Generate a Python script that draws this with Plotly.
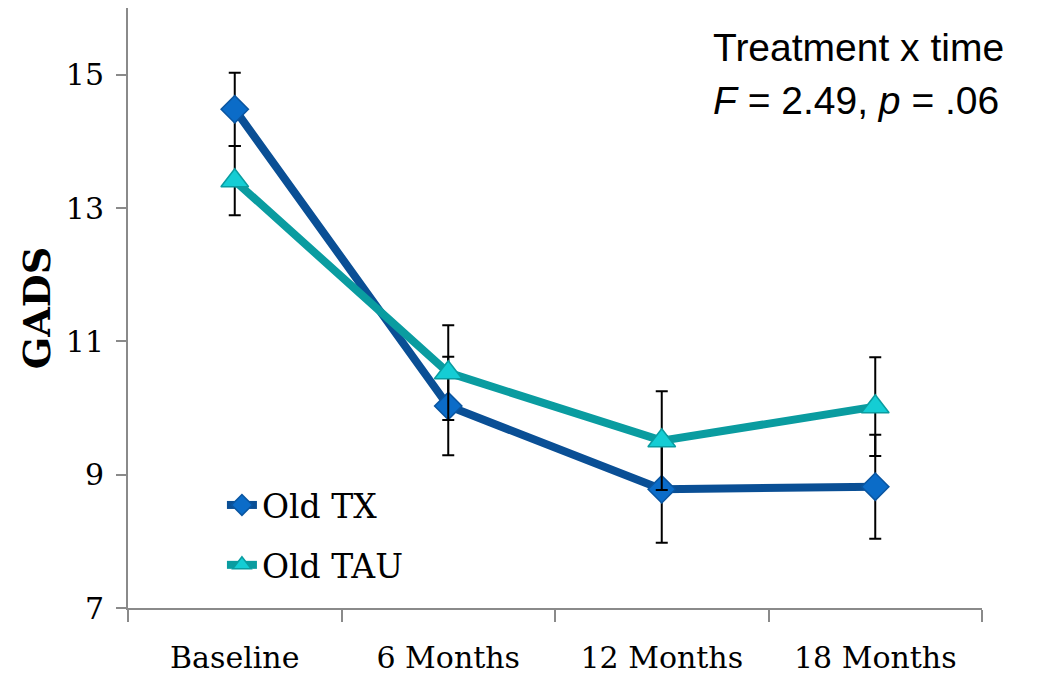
import plotly.graph_objects as go

# Time points and group means (GADS score) with standard errors
timepoints = ["Baseline", "6 Months", "12 Months", "18 Months"]
old_tx = [14.48, 10.03, 8.78, 8.82]
old_tx_err = [0.55, 0.74, 0.80, 0.78]
old_tau = [13.41, 10.53, 9.51, 10.02]
old_tau_err = [0.52, 0.71, 0.74, 0.74]
y_ticks = [7, 9, 11, 13, 15]

serif = "DejaVu Serif"
axis_grey = "#8a8a8a"

fig = go.Figure()

fig.add_trace(go.Scatter(
    x=timepoints, y=old_tx, name="Old TX", mode="lines+markers",
    legendgroup="tx",
    line=dict(color="#0A4F95", width=8),
    marker=dict(symbol="diamond", size=21, color="#0B6CC8",
                line=dict(color="#0A55A0", width=1.5)),
    error_y=dict(type="data", array=old_tx_err, visible=True,
                 color="black", thickness=2, width=6),
))

fig.add_trace(go.Scatter(
    x=timepoints, y=old_tau, name="Old TAU", mode="lines+markers",
    legendgroup="tau",
    line=dict(color="#0A9CA0", width=8),
    marker=dict(symbol="triangle-up", size=24, color="#14CDD4",
                line=dict(color="#0A9CA0", width=1.5)),
    error_y=dict(type="data", array=old_tau_err, visible=True,
                 color="black", thickness=2, width=6),
))

fig.add_annotation(
    xref="paper", yref="paper", x=(711 - 128) / 854, y=(608 - 48) / 600,
    xanchor="left", yanchor="middle", showarrow=False,
    text="Treatment x time",
    font=dict(family="Liberation Sans", size=39, color="black"),
)
fig.add_annotation(
    xref="paper", yref="paper", x=(711 - 128) / 854, y=(608 - 100) / 600,
    xanchor="left", yanchor="middle", showarrow=False,
    text="<i>F</i> = 2.49, <i>p</i> = .06",
    font=dict(family="Liberation Sans", size=39, color="black"),
)

fig.update_layout(
    width=1038, height=677,
    margin=dict(l=128, r=56, t=8, b=69),
    paper_bgcolor="white", plot_bgcolor="white",
    font=dict(family=serif, color="black"),
    showlegend=True,
    legend=dict(
        x=0.11, y=0.025, xanchor="left", yanchor="bottom",
        bgcolor="rgba(0,0,0,0)", font=dict(family=serif, size=33),
        traceorder="grouped", tracegroupgap=14,
    ),
    xaxis=dict(
        type="category", range=[-0.5, 3.5], automargin=False,
        showline=True, linecolor=axis_grey, linewidth=2,
        ticks="outside", tickson="boundaries", ticklen=12,
        tickcolor=axis_grey, tickwidth=2,
        showgrid=False, zeroline=False,
        tickfont=dict(family=serif, size=30),
        ticklabelstandoff=22,
    ),
    yaxis=dict(
        range=[7, 16], tickvals=y_ticks, automargin=False,
        showline=True, linecolor=axis_grey, linewidth=2,
        ticks="outside", ticklen=10, tickcolor=axis_grey, tickwidth=2,
        showgrid=False, zeroline=False,
        tickfont=dict(family=serif, size=30),
        ticklabelstandoff=6,
        title=dict(text="<b>GADS</b>", font=dict(family=serif, size=38),
                   standoff=4),
    ),
)

fig.write_html("out.html")
